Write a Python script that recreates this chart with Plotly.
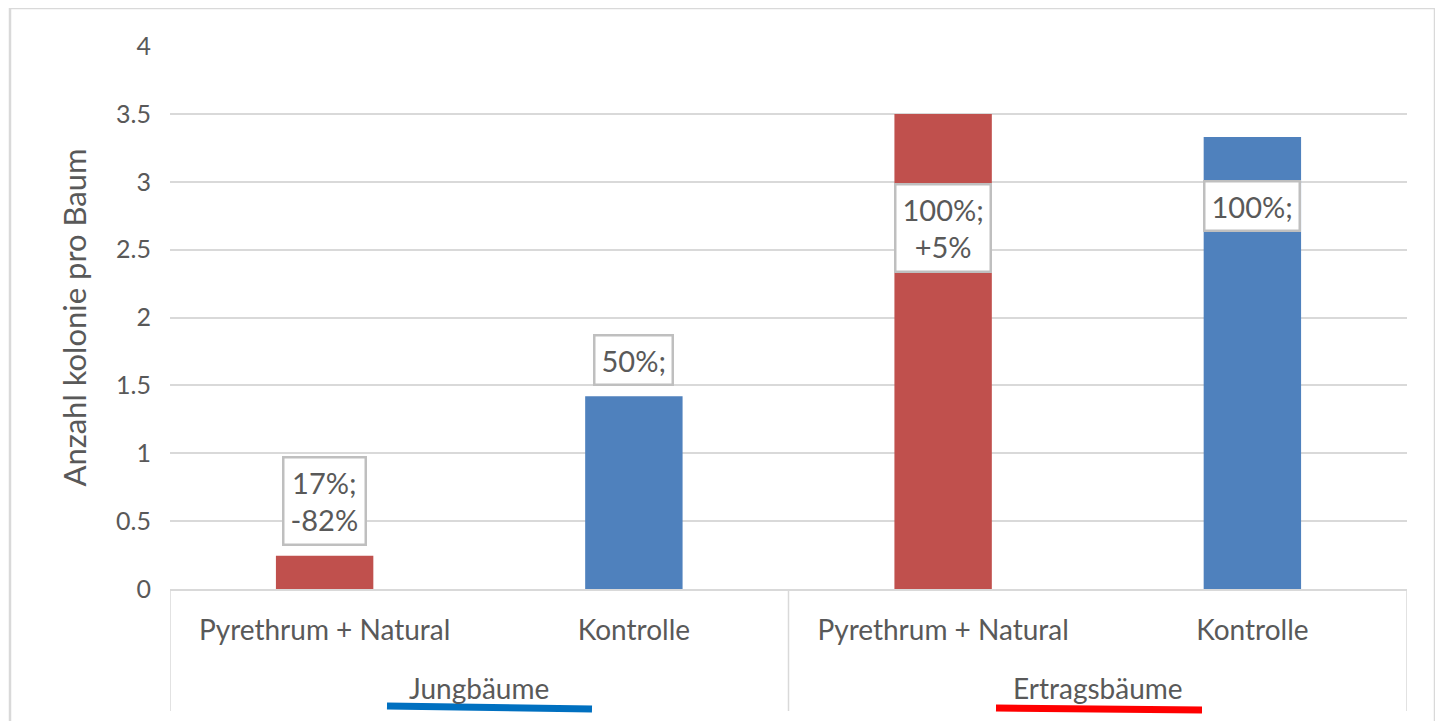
import plotly.graph_objects as go

groups = ["Jungbäume", "Jungbäume", "Ertragsbäume", "Ertragsbäume"]
treatments = ["Pyrethrum + Natural", "Kontrolle", "Pyrethrum + Natural", "Kontrolle"]
values = [0.245, 1.42, 3.5, 3.33]
label_texts = ["17%;<br>-82%", "50%;", "100%;<br>+5%", "100%;"]
y_ticks = [0, 0.5, 1, 1.5, 2, 2.5, 3, 3.5, 4]
tick_texts = ["0", "0.5", "1", "1.5", "2", "2.5", "3", "3.5", "4"]

RED = "#c0504d"
BLUE = "#4f81bd"
TXT = "#595959"
GRID = "#d9d9d9"
FONT = "Lato"
colors = {"Pyrethrum + Natural": RED, "Kontrolle": BLUE}

# page has an 8px body margin; plot area in window: x 170..1407, y 46..589
W, H = 1435, 713
PL, PR, PT, PB = 162, 36, 38, 132
pw, ph = W - PL - PR, H - PT - PB


def px_x(xw):  # window pixel -> paper x
    return (xw - 8 - PL) / pw


def px_y(yw):  # window pixel -> paper y
    return (H - PB - (yw - 8)) / ph


positions = list(range(len(values)))

fig = go.Figure()
for treat in ["Pyrethrum + Natural", "Kontrolle"]:
    idx = [i for i, t in enumerate(treatments) if t == treat]
    fig.add_trace(go.Bar(
        x=[positions[i] for i in idx],
        y=[values[i] for i in idx],
        marker=dict(color=colors[treat], line=dict(width=0)),
        width=0.315,
        showlegend=False,
        hoverinfo="skip",
    ))

# boxed data labels, placed as in the reference
placements = [("bottom", 10), ("bottom", 10), ("top", -69), ("top", -43)]
for i, (txt, (anchor, shift)) in enumerate(zip(label_texts, placements)):
    fig.add_annotation(
        x=positions[i], y=values[i], xref="x", yref="y",
        text=txt, showarrow=False,
        yanchor=anchor, yshift=shift,
        font=dict(family=FONT, size=29, color=TXT),
        bgcolor="white", bordercolor="#bfbfbf", borderwidth=2.5, borderpad=6,
    )

# group labels and dividers (second category level)
unique_groups = []
for g in groups:
    if g not in unique_groups:
        unique_groups.append(g)
bounds = set()
for g in unique_groups:
    idx = [positions[i] for i, gg in enumerate(groups) if gg == g]
    fig.add_annotation(
        x=sum(idx) / len(idx), y=px_y(688), xref="x", yref="paper",
        text=g, showarrow=False, yanchor="middle",
        font=dict(family=FONT, size=28, color=TXT),
    )
    bounds.add(min(idx) - 0.5)
    bounds.add(max(idx) + 0.5)
for b in sorted(bounds):
    fig.add_shape(type="line", xref="x", yref="paper",
                  x0=b, x1=b, y0=0, y1=px_y(711),
                  line=dict(color=GRID, width=1.5))

# outer chart border
fig.add_shape(type="rect", xref="paper", yref="paper",
              x0=px_x(10), x1=px_x(1435),
              y0=px_y(760), y1=px_y(8),
              line=dict(color=GRID, width=2.5), fillcolor="rgba(0,0,0,0)", layer="below")

# hand-drawn underlines below group labels
fig.add_shape(type="line", xref="paper", yref="paper",
              x0=px_x(387), x1=px_x(592), y0=px_y(706), y1=px_y(709),
              line=dict(color="#0070c0", width=7))
fig.add_shape(type="line", xref="paper", yref="paper",
              x0=px_x(996), x1=px_x(1202), y0=px_y(708), y1=px_y(710),
              line=dict(color="#ff0000", width=7))

fig.update_layout(
    width=W, height=H,
    margin=dict(l=PL, r=PR, t=PT, b=PB),
    paper_bgcolor="white", plot_bgcolor="white",
    barmode="overlay",
    font=dict(family=FONT, size=25, color=TXT),
    xaxis=dict(
        range=[-0.5, 3.5],
        tickvals=positions, ticktext=treatments,
        showline=True, linecolor=GRID, linewidth=1.5,
        showgrid=False, zeroline=False, ticks="",
        ticklabelstandoff=16,
        tickfont=dict(family=FONT, size=28, color=TXT),
    ),
    yaxis=dict(
        range=[0, 4],
        tickvals=y_ticks, ticktext=tick_texts,
        showgrid=True, gridcolor=GRID, gridwidth=1.5,
        zeroline=False, showline=False, ticks="",
        ticklabelstandoff=18,
        tickfont=dict(family=FONT, size=25, color=TXT),
        title=dict(text="Anzahl kolonie pro Baum", standoff=20,
                   font=dict(family=FONT, size=31, color=TXT)),
    ),
)

fig.write_html("out.html")
